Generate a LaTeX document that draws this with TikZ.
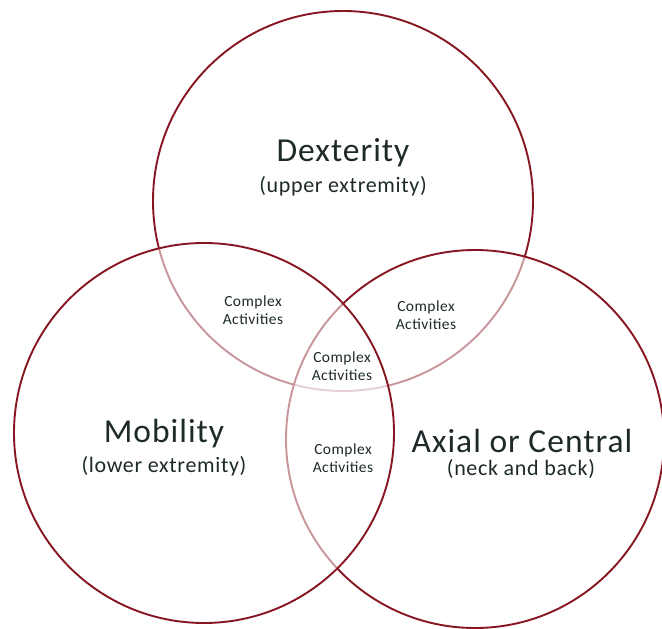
\documentclass[tikz,border=0pt]{standalone}
\usepackage{fontspec}
\setmainfont{Carlito}[LetterSpace=3]
\definecolor{ringred}{RGB}{135,22,34}
\definecolor{labeltext}{RGB}{30,42,42}
\tikzset{
  ring/.style={draw=ringred,line width=1.9pt,fill=white,fill opacity=0.55},
  title/.style={text=labeltext,font=\fontsize{33.5}{36}\selectfont,inner sep=0pt},
  subtitle/.style={text=labeltext,font=\fontsize{22}{25}\selectfont,inner sep=0pt},
  overlap/.style={text=labeltext,font=\fontsize{15.5}{18.5}\selectfont,align=center,inner sep=0pt}
}

\begin{document}
\begin{tikzpicture}[x=1pt,y=-1pt]
\useasboundingbox (0,0) rectangle (662,629);
\clip (0,0) rectangle (662,629);
% the three sets, later ones wash out the lines below them
\draw [ring] (343,201) circle (190);
\draw [ring] (475,439) circle (189);
\draw [ring] (204,433) circle (190);

\node [title] (dex) at (343,153) {Dexterity};
\node [subtitle] (dexsub) at (343,186) {(upper extremity)};
\node [title] (mob) at (164,434) {Mobility};
\node [subtitle] (mobsub) at (164,466) {(lower extremity)};
\node [title] (axial) at (522,441) {Axial or Central};
\node [subtitle] (axialsub) at (521,469) {(neck and back)};

\node [overlap] (dexmob) at (253,310) {Complex\\Activities};
\node [overlap] (dexaxial) at (426,315) {Complex\\Activities};
\node [overlap] (centre) at (342,366) {Complex\\Activities};
\node [overlap] (mobaxial) at (343,458) {Complex\\Activities};
\end{tikzpicture}
\end{document}
